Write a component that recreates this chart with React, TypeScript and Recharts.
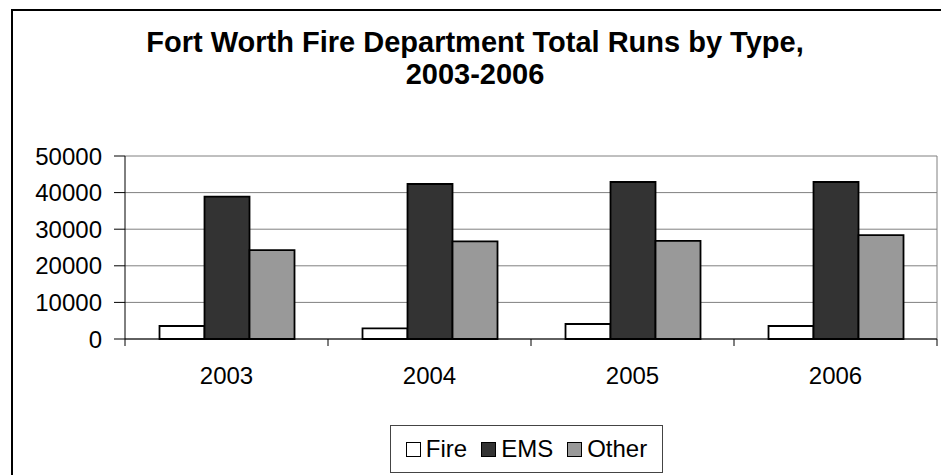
import React from 'react';
import { BarChart, Bar, XAxis, YAxis, CartesianGrid } from 'recharts';

const years = ['2003', '2004', '2005', '2006'];
const fireRuns = [3550, 2900, 4100, 3550];
const emsRuns = [38900, 42350, 42900, 42900];
const otherRuns = [24300, 26700, 26800, 28400];
const yTicks = [0, 10000, 20000, 30000, 40000, 50000];

const seriesNames = ['Fire', 'EMS', 'Other'];
const seriesColors = ['#ffffff', '#333333', '#999999'];

const data = years.map((year, i) => ({
  year,
  Fire: fireRuns[i],
  EMS: emsRuns[i],
  Other: otherRuns[i],
}));

const W = 941;
const H = 475;
const margin = { top: 156, right: 4, left: 12, bottom: 96 };
const yAxisWidth = 113;
const plotWidth = W - margin.left - margin.right - yAxisWidth;
const band = plotWidth / years.length;
const font = '"Liberation Sans", Arial, sans-serif';

const XTick = (props: any) => {
  const { x, y, payload, index } = props;
  const left = x - band / 2;
  return (
    <g>
      <line x1={left} x2={left} y1={y} y2={y + 7} stroke="#000" />
      {index === years.length - 1 && (
        <line x1={x + band / 2} x2={x + band / 2} y1={y} y2={y + 7} stroke="#000" />
      )}
      <text x={x} y={y + 45} textAnchor="middle" fontSize={24} fontFamily={font} fill="#000">
        {payload.value}
      </text>
    </g>
  );
};

const App: React.FC = () => {
  return (
    <div style={{ position: 'absolute', left: 0, top: 0, width: W, height: H, overflow: 'hidden', background: '#fff', fontFamily: font }}>
      <div style={{ position: 'absolute', left: 11, top: 9, width: 1000, height: 1000, border: '2px solid #000' }} />
      <div style={{ position: 'absolute', left: 0, top: 26, width: 950, textAlign: 'center', fontSize: 29, fontWeight: 'bold', lineHeight: '32px', color: '#000' }}>
        Fort Worth Fire Department Total Runs by Type,
        <br />
        2003-2006
      </div>
      <div style={{ position: 'absolute', left: 0, top: 0 }}>
        <BarChart width={W} height={H} data={data} margin={margin} barCategoryGap="17%" barGap={0}>
          <CartesianGrid
            stroke="#808080"
            vertical
            verticalCoordinatesGenerator={({ offset }: any) => [offset.left + offset.width]}
          />
          <XAxis
            dataKey="year"
            axisLine={{ stroke: '#000' }}
            tickLine={false}
            tickSize={0}
            tickMargin={0}
            height={40}
            tick={<XTick />}
            interval={0}
          />
          <YAxis
            width={yAxisWidth}
            domain={[0, 50000]}
            ticks={yTicks}
            interval={0}
            axisLine={{ stroke: '#000' }}
            tickLine={{ stroke: '#000' }}
            tickSize={11}
            tickMargin={12}
            tick={{ fill: '#000', fontSize: 24, fontFamily: font }}
          />
          {seriesNames.map((name, i) => (
            <Bar
              key={name}
              dataKey={name}
              fill={seriesColors[i]}
              stroke="#000"
              strokeWidth={1.8}
              isAnimationActive={false}
            />
          ))}
        </BarChart>
      </div>
      <div
        style={{
          position: 'absolute',
          left: 390,
          top: 425,
          width: 273,
          height: 48,
          boxSizing: 'border-box',
          border: '1px solid #444',
          display: 'flex',
          alignItems: 'center',
          justifyContent: 'center',
          gap: 14,
          fontSize: 24,
          color: '#000',
        }}
      >
        {seriesNames.map((name, i) => (
          <div key={name} style={{ display: 'flex', alignItems: 'center' }}>
            <span
              style={{
                display: 'inline-block',
                width: 13,
                height: 13,
                background: seriesColors[i],
                border: '1px solid #000',
                marginRight: 5,
              }}
            />
            <span>{name}</span>
          </div>
        ))}
      </div>
    </div>
  );
};

export default App;
